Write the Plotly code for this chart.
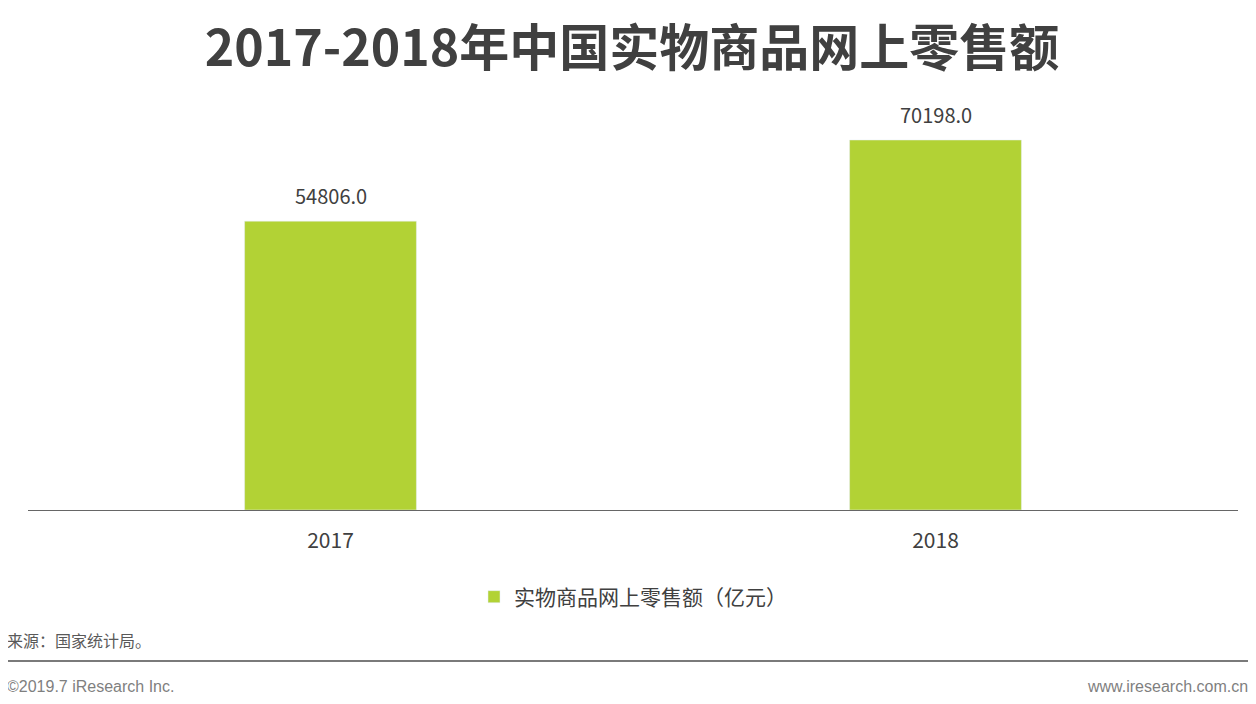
import plotly.graph_objects as go

categories = ["2017", "2018"]
values = [54806.0, 70198.0]
series_name = "实物商品网上零售额（亿元）"
title_text = "2017-2018年中国实物商品网上零售额"
source_text = "来源：国家统计局。"
copyright_text = "©2019.7 iResearch Inc."
site_text = "www.iresearch.com.cn"

CJK = "Noto Sans CJK SC"
W, H = 1248, 696
L, R, T, B = 20, 18, 92, 194
PW, PH = W - L - R, H - T - B

def px_x(x):
    return (x - L) / PW

def px_y(y):
    return (H - B - y) / PH

fig = go.Figure()
fig.add_trace(go.Bar(
    x=categories, y=values, name=series_name,
    marker=dict(color="#B2D235"), width=0.284,
))
for i, v in enumerate(values):
    fig.add_annotation(x=i, y=v, text=f"{v:.1f}", showarrow=False, yshift=26,
                       yanchor="middle", font=dict(size=20, color="#404040", family=CJK))
fig.update_layout(
    width=W, height=H,
    margin=dict(l=L, r=R, t=T, b=B, autoexpand=False),
    paper_bgcolor="white", plot_bgcolor="white",
    showlegend=True,
    legend=dict(orientation="h", x=0.5, xanchor="center", y=px_y(589), yanchor="middle",
                font=dict(size=21, color="#404040", family=CJK), itemwidth=30),
    title=dict(text=f"<b>{title_text}</b>", x=0.5, xanchor="center", y=1 - 40 / H, yanchor="middle",
               font=dict(size=50, color="#404040", family=CJK)),
    xaxis=dict(type="category", range=[-0.5, len(categories) - 0.5], showline=True,
               linecolor="#666666", linewidth=1, ticks="", ticklabelstandoff=12,
               tickfont=dict(size=21, color="#404040", family=CJK), showgrid=False),
    yaxis=dict(range=[0, 77787], visible=False, showgrid=False),
    font=dict(family=CJK),
)
fig.add_annotation(text=source_text, xref="paper", yref="paper", x=px_x(-3), y=px_y(632),
                   xanchor="left", yanchor="middle", showarrow=False,
                   font=dict(size=16, color="#595959", family=CJK))
fig.add_shape(type="line", xref="paper", yref="paper", x0=px_x(-3), x1=px_x(1242),
              y0=px_y(653), y1=px_y(653), line=dict(color="#7a7a7a", width=2))
fig.add_annotation(text=copyright_text, xref="paper", yref="paper", x=px_x(-3), y=px_y(678),
                   xanchor="left", yanchor="middle", showarrow=False,
                   font=dict(size=16, color="#7f7f7f", family="Liberation Sans"))
fig.add_annotation(text=site_text, xref="paper", yref="paper", x=px_x(1242), y=px_y(678),
                   xanchor="right", yanchor="middle", showarrow=False,
                   font=dict(size=16, color="#7f7f7f", family="Liberation Sans"))
fig.write_html("out.html")
